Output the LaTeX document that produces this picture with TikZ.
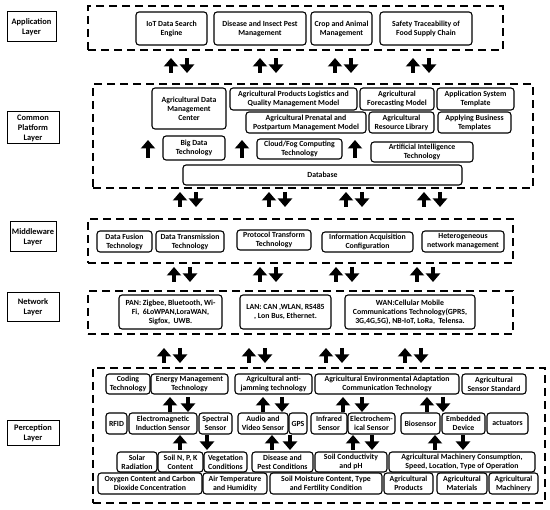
\documentclass[tikz,border=0pt]{standalone}
\usepackage{fontspec}
\setmainfont{Carlito}
\usetikzlibrary{arrows.meta}
\newcommand{\bx}[7][rbox]{\node[#1, minimum width={#5-#3}, minimum height={#6-#4}] (#2) at ({(#3+#5)/2},{(#4+#6)/2}) {#7};}
\newcommand{\upa}[3]{\draw[arr] (#1,#3) -- (#1,#2);}
\newcommand{\dna}[3]{\draw[arr] (#1,#2) -- (#1,#3);}
\newcommand{\pairar}[3]{\upa{#1-8}{#2}{#3}\dna{#1+8}{#2}{#3}}
\begin{document}
\begin{tikzpicture}[x=1pt,y=-1pt,
 rbox/.style={draw, line width=1.1pt, rounded corners=3pt, align=center, inner sep=0pt, font=\bfseries\fontsize{7.8}{9}\selectfont},
 lbox/.style={draw, line width=1pt, align=center, inner sep=0pt, font=\bfseries\fontsize{8.4}{10}\selectfont},
 dbox/.style={draw, line width=1.2pt, dash pattern=on 8pt off 5pt, inner sep=0pt},
 arr/.style={line width=3.8pt, -{Triangle[width=14pt,length=8.5pt]}}]
\useasboundingbox (0,0) rectangle (550,510);
% ---------------- Application layer
\bx[lbox]{lapp}{7}{12}{56}{42}{Application\\Layer}
\bx[dbox]{dapp}{88}{6}{503}{50}{}
\bx{a1}{136}{12}{207}{45}{IoT Data Search\\Engine}
\bx{a2}{214}{12}{306}{45}{Disease and Insect Pest\\Management}
\bx{a3}{311}{12}{372}{45}{Crop and Animal\\Management}
\bx{a4}{380}{12}{472}{45}{Safety Traceability of\\Food Supply Chain}
\pairar{179}{58}{73}
\pairar{268}{58}{73}
\pairar{343}{58}{73}
\pairar{421}{58}{73}
% ---------------- Common platform layer
\bx[lbox]{lcom}{7}{112}{59}{144}{Common\\Platform\\Layer}
\bx[dbox]{dcom}{93}{84}{533}{188}{}
\bx{c1}{152}{88}{226}{129}{Agricultural Data\\Management\\Center}
\bx{c2}{230}{88}{357}{110}{Agricultural Products Logistics and\\Quality Management Model}
\bx{c3}{360}{88}{434}{110}{Agricultural\\Forecasting Model}
\bx{c4}{437}{88}{514}{110}{Application System\\Template}
\bx{c5}{246}{112}{366}{133}{Agricultural Prenatal and\\Postpartum Management Model}
\bx{c6}{369}{112}{434}{133}{Agricultural\\Resource Library}
\bx{c7}{438}{112}{511}{133}{Applying Business\\Templates}
\bx{c8}{163}{136}{225}{160}{Big Data\\Technology}
\bx{c9}{257}{139}{342}{159}{Cloud/Fog Computing\\Technology}
\bx{c10}{371}{142}{473}{162}{Artificial Intelligence\\Technology}
\bx{c11}{183}{165}{462}{185}{Database}
\upa{148}{140}{158}
\upa{242}{140}{158}
\upa{355}{140}{158}
\pairar{188}{192}{207}
\pairar{277}{192}{207}
\pairar{354}{192}{207}
\pairar{432}{192}{207}
% ---------------- Middleware layer
\bx[lbox]{lmid}{10}{222}{56}{252}{Middleware\\Layer}
\bx[dbox]{dmid}{88}{219}{513}{263}{}
\bx{m1}{97}{231}{152}{252}{Data Fusion\\Technology}
\bx{m2}{156}{231}{224}{252}{Data Transmission\\Technology}
\bx{m3}{237}{230}{311}{250}{Protocol Transform\\Technology}
\bx{m4}{322}{232}{413}{252}{Information Acquisition\\Configuration}
\bx{m5}{422}{231}{504}{252}{Heterogeneous\\network management}
\pairar{182}{267}{282}
\pairar{268}{267}{282}
\pairar{344}{267}{282}
\pairar{425}{267}{282}
% ---------------- Network layer
\bx[lbox]{lnet}{7}{293}{59}{322}{Network\\Layer}
\bx[dbox]{dnet}{88}{291}{513}{334}{}
\bx{n1}{119}{295}{222}{329}{PAN: Zigbee, Bluetooth, Wi-\\Fi, \ 6LoWPAN,LoraWAN,\\Sigfox, \ UWB.}
\bx{n2}{240}{295}{331}{329}{LAN: CAN ,WLAN, RS485\\, Lon Bus, Ethernet.}
\bx{n3}{345}{295}{475}{329}{WAN:Cellular Mobile\\Communications Technology(GPRS,\\3G,4G,5G), NB-IoT, LoRa, \ Telensa.}
\pairar{172}{348}{363}
\pairar{257}{348}{363}
\pairar{334}{348}{363}
\pairar{413}{348}{363}
% ---------------- Perception layer
\bx[lbox]{lper}{7}{421}{59}{446}{Perception\\Layer}
\bx[dbox]{dper}{93}{368}{545}{503}{}
% row 1
\bx{p1}{106}{374}{150}{394}{Coding\\Technology}
\bx{p2}{151}{374}{228}{394}{Energy Management\\Technology}
\bx{p3}{235}{374}{312}{394}{Agricultural anti-\\jamming technology}
\bx{p4}{315}{374}{459}{394}{Agricultural Environmental Adaptation\\Communication Technology}
\bx{p5}{462}{374}{526}{394}{Agricultural\\Sensor Standard}
% row 2
\bx{q1}{106}{413}{127}{434}{RFID}
\bx{q2}{129}{413}{197}{434}{Electromagnetic\\Induction Sensor}
\bx{q3}{199}{413}{232}{434}{Spectral\\Sensor}
\bx{q4}{238}{413}{288}{434}{Audio and\\Video Sensor}
\bx{q5}{289}{413}{307}{434}{GPS}
\bx{q6}{311}{413}{347}{434}{Infrared\\Sensor}
\bx{q7}{348}{413}{395}{434}{Electrochem-\\ical Sensor}
\bx{q8}{401}{413}{440}{434}{Biosensor}
\bx{q9}{442}{413}{485}{434}{Embedded\\Device}
\bx{q10}{487}{413}{528}{434}{actuators}
% row 3
\bx{r1}{117}{452}{157}{472}{Solar\\Radiation}
\bx{r2}{158}{452}{203}{472}{Soil N, P, K\\Content}
\bx{r3}{204}{452}{247}{472}{Vegetation\\Conditions}
\bx{r4}{252}{452}{313}{472}{Disease and\\Pest Conditions}
\bx{r5}{315}{452}{387}{472}{Soil Conductivity\\and pH}
\bx{r6}{389}{452}{535}{472}{Agricultural Machinery Consumption,\\Speed, Location, Type of Operation}
% row 4
\bx{s1}{98}{473}{202}{494}{Oxygen Content and Carbon\\Dioxide Concentration}
\bx{s2}{203}{473}{267}{494}{Air Temperature\\and Humidity}
\bx{s3}{270}{473}{382}{494}{Soil Moisture Content, Type\\and Fertility Condition}
\bx{s4}{384}{473}{433}{494}{Agricultural\\Products}
\bx{s5}{437}{473}{487}{494}{Agricultural\\Materials}
\bx{s6}{489}{473}{538}{494}{Agricultural\\Machinery}
% intra-perception arrows
\upa{170}{397}{412}\dna{188}{397}{412}
\upa{263}{397}{412}\dna{282}{397}{412}
\upa{343}{397}{412}\dna{362}{397}{412}
\upa{427}{397}{412}\dna{443}{397}{412}
\upa{180}{435}{450}\dna{207}{435}{450}
\upa{272}{435}{450}\dna{290}{435}{450}
\upa{353}{435}{450}\dna{372}{435}{450}
\upa{435}{435}{450}\dna{463}{435}{450}
\end{tikzpicture}
\end{document}
